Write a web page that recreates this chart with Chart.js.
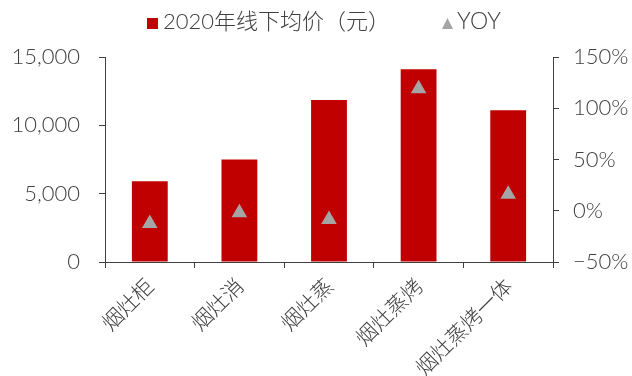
<!DOCTYPE html>
<html><head><meta charset="utf-8">
<script src="https://cdn.jsdelivr.net/npm/chart.js"></script>
<style>html,body{margin:0;padding:0;background:#fff}#wrap{width:632px;height:376px}</style>
</head><body><div id="wrap"><canvas id="c" width="632" height="376"></canvas></div>
<script>
const categories = ['烟灶柜', '烟灶消', '烟灶蒸', '烟灶蒸烤', '烟灶蒸烤一体'];
const avgPrice = [5900, 7500, 11850, 14100, 11100];
const yoy = [-12.5, -2, -8.5, 119, 16];
const priceTicks = [0, 5000, 10000, 15000];
const yoyTicks = [-50, 0, 50, 100, 150];
const seriesNames = ['2020年线下均价（元）', 'YOY'];

const TXT = '#404040';
const NUM_FONT = 'Lato, "Noto Sans CJK SC", sans-serif';
const CJK_FONT = '"Noto Sans CJK SC", sans-serif';

const legendPlugin = {
  id: 'customLegend',
  afterDraw(chart) {
    const ctx = chart.ctx;
    ctx.save();
    ctx.fillStyle = '#C00000';
    ctx.fillRect(147, 18, 11, 11);
    ctx.fillStyle = TXT;
    ctx.textBaseline = 'middle';
    ctx.textAlign = 'left';
    ctx.font = '300 22px ' + NUM_FONT;
    ctx.fillText(seriesNames[0], 163, 22);
    ctx.fillStyle = '#A5A5A5';
    ctx.beginPath();
    ctx.moveTo(447.5, 18);
    ctx.lineTo(453, 29);
    ctx.lineTo(442, 29);
    ctx.closePath();
    ctx.fill();
    ctx.fillStyle = TXT;
    ctx.font = '300 23px ' + NUM_FONT;
    ctx.fillText(seriesNames[1], 457, 22);
    ctx.restore();
  }
};

new Chart(document.getElementById('c'), {
  type: 'bar',
  data: {
    labels: categories,
    datasets: [
      {
        type: 'line',
        label: seriesNames[1],
        data: yoy,
        yAxisID: 'y1',
        showLine: false,
        pointStyle: 'triangle',
        pointRadius: 9,
        pointHoverRadius: 9,
        pointBackgroundColor: '#A5A5A5',
        pointBorderWidth: 0,
        borderWidth: 0,
        order: 0
      },
      {
        label: seriesNames[0],
        data: avgPrice,
        yAxisID: 'y',
        backgroundColor: '#C00000',
        borderWidth: 0,
        categoryPercentage: 1,
        barPercentage: 0.4,
        order: 1
      }
    ]
  },
  options: {
    responsive: false,
    animation: false,
    layout: { padding: { top: 57, left: 0, right: 0, bottom: 0 } },
    plugins: { legend: { display: false }, tooltip: { enabled: false } },
    scales: {
      x: {
        offset: true,
        grid: { display: true, drawOnChartArea: false, drawTicks: true, tickLength: 6, color: TXT, offset: true },
        border: { display: true, color: TXT, width: 1 },
        ticks: { color: TXT, font: { family: CJK_FONT, size: 21, weight: 300 }, minRotation: 45, maxRotation: 45, padding: 5, autoSkip: false },
        afterFit: s => { s.height = 114; }
      },
      y: {
        position: 'left',
        min: 0, max: 15000,
        afterBuildTicks: s => { s.ticks = priceTicks.map(v => ({ value: v })); },
        grid: { display: true, drawOnChartArea: false, drawTicks: true, tickLength: 6, color: TXT },
        border: { display: true, color: TXT, width: 1 },
        ticks: { color: TXT, font: { family: NUM_FONT, size: 22, weight: 300 }, padding: 19,
          callback: v => v.toLocaleString('en-US') },
        afterFit: s => { s.width = 105; }
      },
      y1: {
        position: 'right',
        min: -50, max: 150,
        afterBuildTicks: s => { s.ticks = yoyTicks.map(v => ({ value: v })); },
        grid: { display: true, drawOnChartArea: false, drawTicks: true, tickLength: 6, color: TXT },
        border: { display: true, color: TXT, width: 1 },
        ticks: { color: TXT, font: { family: NUM_FONT, size: 22, weight: 300 }, padding: 14,
          callback: v => (v < 0 ? '\u2212' + Math.abs(v) : v) + '%' },
        afterFit: s => { s.width = 79; }
      }
    }
  },
  plugins: [legendPlugin]
});
</script>
</body></html>
